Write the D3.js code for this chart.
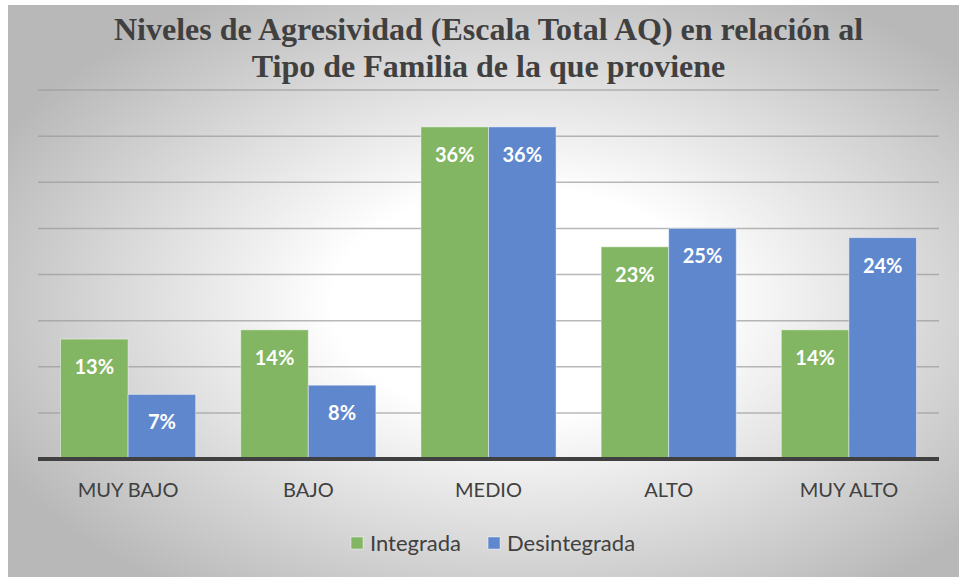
<!DOCTYPE html>
<html>
<head>
<meta charset="utf-8">
<script src="https://cdn.jsdelivr.net/npm/d3@7"></script>
<style>
  html, body { margin: 0; padding: 0; background: #fff; }
  svg { display: block; }
</style>
</head>
<body>
<div id="chart"></div>
<script>
// --- data ---
const categories = ["MUY BAJO", "BAJO", "MEDIO", "ALTO", "MUY ALTO"];
const seriesNames = ["Integrada", "Desintegrada"];
const integrada = [13, 14, 36, 23, 14];
const desintegrada = [7, 8, 36, 25, 24];
const gridTicks = [5, 10, 15, 20, 25, 30, 35, 40];
const titleLines = [
    "Niveles de Agresividad (Escala Total AQ) en relación al",
    "Tipo de Familia de la que proviene"
];

const width = 959, height = 577;
const colors = { Integrada: "#82b662", Desintegrada: "#5e87cd" };
const sansFont = "Lato, 'Open Sans', sans-serif";

const svg = d3.select("#chart").append("svg")
    .attr("width", width)
    .attr("height", height);

// background gradient (Excel style radial)
const defs = svg.append("defs");
const grad = defs.append("radialGradient")
    .attr("id", "bg")
    .attr("cx", "54%").attr("cy", "52%").attr("r", "62%");
grad.append("stop").attr("offset", "0%").attr("stop-color", "#ffffff");
grad.append("stop").attr("offset", "32%").attr("stop-color", "#ffffff");
grad.append("stop").attr("offset", "100%").attr("stop-color", "#b8b8b8");

svg.append("rect")
    .attr("x", 8).attr("y", 5)
    .attr("width", width - 8).attr("height", height - 5)
    .attr("fill", "url(#bg)");

// scales
const x0 = d3.scaleBand()
    .domain(categories)
    .range([38, 939])
    .paddingInner(0.25)
    .paddingOuter(0.125);

const x1 = d3.scaleBand()
    .domain(seriesNames)
    .range([0, x0.bandwidth()]);

const y = d3.scaleLinear().domain([0, 40]).range([459, 90]);

// gridlines
svg.append("g").selectAll("line")
    .data(gridTicks)
    .join("line")
    .attr("x1", 38).attr("x2", 939)
    .attr("y1", d => y(d)).attr("y2", d => y(d))
    .attr("stroke", "#9a9a9a")
    .attr("stroke-opacity", 0.7)
    .attr("stroke-width", 1.5);

// bars
const rows = categories.map((c, i) => ({
    cat: c,
    values: [
        { key: "Integrada", value: integrada[i] },
        { key: "Desintegrada", value: desintegrada[i] }
    ]
}));

const groups = svg.append("g").selectAll("g")
    .data(rows)
    .join("g")
    .attr("transform", d => `translate(${x0(d.cat)},0)`);

groups.selectAll("rect")
    .data(d => d.values)
    .join("rect")
    .attr("x", d => x1(d.key))
    .attr("y", d => y(d.value))
    .attr("width", x1.bandwidth())
    .attr("height", d => y(0) - y(d.value))
    .attr("fill", d => colors[d.key])
    .attr("stroke", "rgba(255,255,255,0.45)")
    .attr("stroke-width", 1);

groups.selectAll("text")
    .data(d => d.values)
    .join("text")
    .attr("x", d => x1(d.key) + x1.bandwidth() / 2)
    .attr("y", d => y(d.value) + 35)
    .attr("text-anchor", "middle")
    .attr("fill", "#fff")
    .attr("font-family", sansFont)
    .attr("font-weight", "bold")
    .attr("font-size", "20px")
    .text(d => d.value + "%");

// x axis line
svg.append("line")
    .attr("x1", 38).attr("x2", 939)
    .attr("y1", y(0)).attr("y2", y(0))
    .attr("stroke", "#404040")
    .attr("stroke-width", 4);

// category labels
svg.append("g").selectAll("text")
    .data(categories)
    .join("text")
    .attr("x", d => x0(d) + x0.bandwidth() / 2)
    .attr("y", 497)
    .attr("text-anchor", "middle")
    .attr("fill", "#404040")
    .attr("font-family", sansFont)
    .attr("font-size", "20px")
    .text(d => d);

// title
svg.append("g").selectAll("text")
    .data(titleLines)
    .join("text")
    .attr("x", 488.5)
    .attr("y", (d, i) => 40 + i * 37)
    .attr("text-anchor", "middle")
    .attr("fill", "#404040")
    .style("font-family", "'Liberation Serif', 'Times New Roman', serif")
    .style("font-weight", "bold")
    .style("font-size", "32px")
    .text(d => d);

// legend
const legend = svg.append("g");
let lx = 351;
seriesNames.forEach(name => {
    const item = legend.append("g").attr("transform", `translate(${lx},0)`);
    item.append("rect")
        .attr("x", 0).attr("y", 537)
        .attr("width", 12).attr("height", 12)
        .attr("fill", colors[name])
        .attr("stroke", "rgba(255,255,255,0.45)");
    const t = item.append("text")
        .attr("x", 19).attr("y", 551)
        .attr("fill", "#404040")
        .attr("font-family", sansFont)
        .attr("font-size", "22px")
        .text(name);
    lx += 19 + t.node().getComputedTextLength() + 27;
});
</script>
</body>
</html>
